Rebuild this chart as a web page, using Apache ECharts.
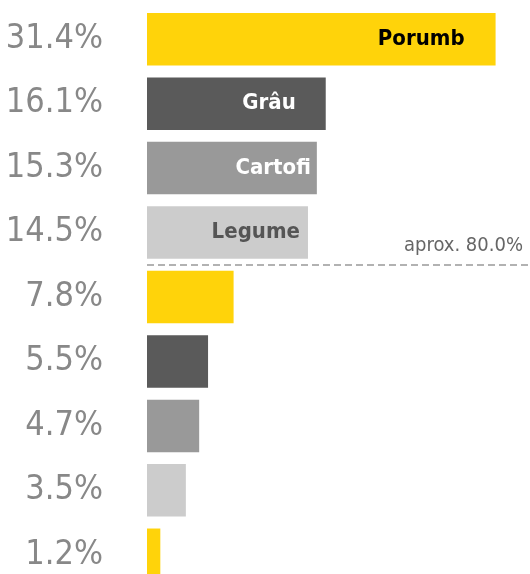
<!DOCTYPE html>
<html><head><meta charset="utf-8">
<script src="https://cdn.jsdelivr.net/npm/echarts@6/dist/echarts.min.js"></script>
<style>html,body{margin:0;padding:0;background:#fff}#c{width:530px;height:574px}</style>
</head><body><div id="c"></div>
<script>
const categories = ['Porumb', 'Grâu', 'Cartofi', 'Legume', '', '', '', '', ''];
const values = [31.4, 16.1, 15.3, 14.5, 7.8, 5.5, 4.7, 3.5, 1.2];
const thresholdIndex = 4;
const thresholdLabel = 'aprox. 80.0%';

const FONT = "'Liberation Sans Narrow', 'DejaVu Sans Condensed', 'Roboto Condensed', sans-serif";
const palette = ['#FFD30A', '#5A5A5A', '#999999', '#CCCCCC'];
const labelColors = ['#000000', '#FFFFFF', '#FFFFFF', '#555555'];
const labelPad = [31, 30, 6, 8];

const chart = echarts.init(document.getElementById('c'), null, {renderer: 'canvas'});
const data = values.map((v, i) => {
  const item = {value: v, name: categories[i], itemStyle: {color: palette[i % 4]}};
  if (categories[i]) {
    item.label = {show: true, position: 'insideRight', distance: labelPad[i],
      formatter: categories[i], color: labelColors[i % 4]};
  }
  return item;
});
chart.setOption({
  animation: false,
  grid: {left: 147, right: 0, top: 7, height: 580, containLabel: false, outerBoundsMode: 'none'},
  xAxis: [{type: 'value', min: 0, max: 34.5, show: false}],
  yAxis: [
    {type: 'category', inverse: true, data: values.map(v => v.toFixed(1) + '%'),
     axisLine: {show: false}, axisTick: {show: false}, splitLine: {show: false},
     axisLabel: {margin: 44, fontSize: 34, color: '#888888', fontFamily: FONT}},
    {type: 'value', inverse: true, min: 0, max: values.length, show: false}
  ],
  series: [
    {type: 'bar', data: data, barCategoryGap: '18.5%',
     label: {show: false, fontFamily: FONT, fontWeight: 'bold', fontSize: 22}},
    {type: 'line', yAxisIndex: 1, data: [], silent: true,
     markLine: {silent: true, symbol: 'none',
       lineStyle: {type: [7, 4], color: '#999999', width: 1.5},
       label: {show: true, position: 'insideEndTop', formatter: thresholdLabel,
         fontFamily: FONT, fontSize: 20, color: '#666666', distance: [7, 9]},
       data: [{yAxis: thresholdIndex, x: 147}]}}
  ]
});
</script></body></html>
